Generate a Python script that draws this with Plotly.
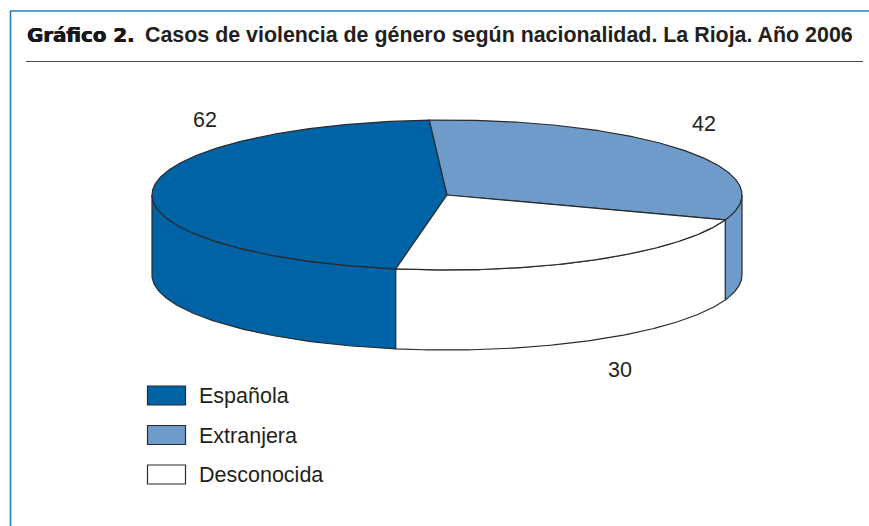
import numpy as np
import plotly.graph_objects as go

categories = ["Española", "Extranjera", "Desconocida"]
values = [62, 42, 30]
colors = ["#0063a6", "#6f9bca", "#ffffff"]
value_label_xy = [(205, 120), (704, 124), (620, 370)]
title_bold = "Gráfico 2."
title_rest = "Casos de violencia de género según nacionalidad. La Rioja. Año 2006"

W, H = 869, 526
CX, CY, RX, RY, DEPTH = 447, 195, 295, 75, 80
START = 260.0
INK = "#231f20"
LINE = dict(color="#2a2a2a", width=1.2)


def ex(t):
    return CX + RX * np.cos(np.radians(t))


def ey(t):
    return CY - RY * np.sin(np.radians(t))


total = sum(values)
edges = [START]
for v in values:
    edges.append(edges[-1] - 360.0 * v / total)

fig = go.Figure()

# outer walls: only the front half of the rim (180..360 degrees) is visible
for i, cat in enumerate(categories):
    hi, lo = edges[i], edges[i + 1]
    for shift in (0, 360, -360):
        a = max(lo + shift, 180)
        b = min(hi + shift, 360)
        if b > a:
            t = np.linspace(a, b, 120)
            x = np.concatenate([ex(t), ex(t[::-1]), [ex(t[0])]])
            y = np.concatenate([ey(t), ey(t[::-1]) + DEPTH, [ey(t[0])]])
            fig.add_trace(go.Scatter(x=x, y=y, mode="lines", fill="toself",
                                     fillcolor=colors[i], line=LINE,
                                     hoverinfo="skip", showlegend=False))

# top face
for i, cat in enumerate(categories):
    t = np.linspace(edges[i], edges[i + 1], 240)
    x = np.concatenate([[CX], ex(t), [CX]])
    y = np.concatenate([[CY], ey(t), [CY]])
    fig.add_trace(go.Scatter(x=x, y=y, mode="lines", fill="toself",
                             fillcolor=colors[i], line=LINE, name=cat,
                             text=[f"{cat}: {values[i]}"] * len(x),
                             hoverinfo="text", showlegend=False))

shapes = [
    dict(type="line", x0=10.5, x1=10.5, y0=11, y1=H, line=dict(color="#2a7fc0", width=1.6)),
    dict(type="line", x0=10, x1=W, y0=11, y1=11, line=dict(color="#2a7fc0", width=1.6)),
    dict(type="line", x0=26, x1=863, y0=61.5, y1=61.5, line=dict(color="#4a4a4a", width=1.2)),
]
annotations = [
    dict(x=25, y=35, text=f"<b>{title_bold}</b>", xanchor="left", yanchor="middle", showarrow=False,
         font=dict(family="DejaVu Sans", size=19.8, color="#1a1718",
                   shadow="0.5px 0 0 #1a1718, -0.3px 0 0 #1a1718")),
    dict(x=142.5, y=35, text=f"<b>{title_rest}</b>", xanchor="left", yanchor="middle", showarrow=False,
         font=dict(family="Liberation Sans", size=21.4, color=INK)),
]
for v, (lx, ly) in zip(values, value_label_xy):
    annotations.append(dict(x=lx, y=ly, text=str(v), showarrow=False, xanchor="center", yanchor="middle",
                            font=dict(family="Liberation Sans", size=21.5, color=INK)))

for i, cat in enumerate(categories):
    y0 = 386 + i * 39.5
    shapes.append(dict(type="rect", x0=147.5, x1=185.5, y0=y0, y1=y0 + 19,
                       fillcolor=colors[i], line=dict(color="#2a2a2a", width=1.2)))
    annotations.append(dict(x=196.5, y=y0 + 10, text=cat, xanchor="left", yanchor="middle", showarrow=False,
                            font=dict(family="Liberation Sans", size=21.5, color=INK)))

fig.update_layout(
    width=W, height=H, margin=dict(l=0, r=0, t=0, b=0),
    paper_bgcolor="white", plot_bgcolor="white",
    xaxis=dict(range=[0, W], visible=False, fixedrange=True),
    yaxis=dict(range=[H, 0], visible=False, fixedrange=True),
    shapes=shapes, annotations=annotations,
)
fig.write_html("out.html", post_script="document.body.style.margin='0';",
               config=dict(displayModeBar=False))
